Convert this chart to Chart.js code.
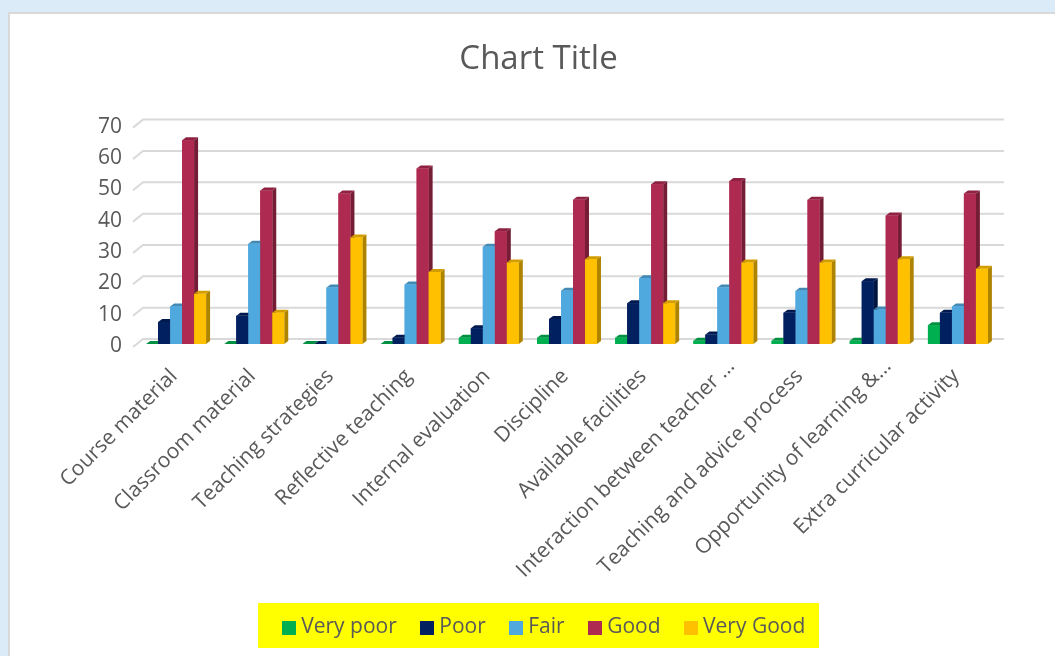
<!DOCTYPE html>
<html>
<head>
<meta charset="utf-8">
<title>Chart Title</title>
<script src="https://cdn.jsdelivr.net/npm/chart.js@4"></script>
<style>
    html, body { margin: 0; padding: 0; width: 1055px; height: 656px; overflow: hidden; background: #dbecf8; }
    #card { position: absolute; left: 8px; top: 12px; width: 1060px; height: 660px; background: #fff; border: 2px solid #d9d9d9; }
    #canvas_container { position: absolute; left: 0; top: 0; width: 1055px; height: 656px; overflow: hidden; }
</style>
</head>
<body>
<div id="card"></div>
<div id="canvas_container"><canvas id="barChart" width="1055" height="680"></canvas></div>
<script>
var categories = ["Course material", "Classroom material", "Teaching strategies", "Reflective teaching",
    "Internal evaluation", "Discipline", "Available facilities", "Interaction between teacher \u2026",
    "Teaching and advice process", "Opportunity of learning &\u2026", "Extra curricular activity"];

var veryPoor = [0, 0, 0, 0, 2, 2, 2, 1, 1, 1, 6];
var poor = [7, 9, 0, 2, 5, 8, 13, 3, 10, 20, 10];
var fair = [12, 32, 18, 19, 31, 17, 21, 18, 17, 11, 12];
var good = [65, 49, 48, 56, 36, 46, 51, 52, 46, 41, 48];
var veryGood = [16, 10, 34, 23, 26, 27, 13, 26, 26, 27, 24];

var textColor = "#595959";
var depthX = 4;
var depthY = 3;

//darken a hex colour for the side and top faces of the bars
function shade(hex, f) {
    var n = parseInt(hex.slice(1), 16);
    return "rgb(" + Math.round((n >> 16) * f) + "," + Math.round(((n >> 8) & 255) * f) + "," + Math.round((n & 255) * f) + ")";
}

function series(label, data, color) {
    return { label: label, data: data, backgroundColor: color, borderWidth: 0,
        categoryPercentage: 0.767, barPercentage: 1 };
}

//small square used as the legend marker, so the text can sit close to it
function swatch(color) {
    var c = document.createElement("canvas");
    c.width = 14;
    c.height = 14;
    var g = c.getContext("2d");
    g.fillStyle = color;
    g.fillRect(0, 0, 14, 14);
    return c;
}

//back wall lines with the little slanted piece on the left
var gridPlugin = {
    id: "grid3d",
    beforeDatasetsDraw: function (chart) {
        var ctx = chart.ctx, y = chart.scales.y, area = chart.chartArea;
        ctx.save();
        ctx.strokeStyle = "#d9d9d9";
        ctx.lineWidth = 2;
        y.ticks.forEach(function (t) {
            var py = y.getPixelForValue(t.value);
            ctx.beginPath();
            ctx.moveTo(area.left - 4, py + 3);
            ctx.lineTo(area.left + 6, py - 5);
            ctx.lineTo(area.right + 7, py - 5);
            ctx.stroke();
        });
        ctx.restore();
    }
};

//chart.js paints the first dataset last, the picture needs left bars behind right bars,
//so every bar is repainted here from left to right with its top and side faces
var depthPlugin = {
    id: "depth3d",
    afterDatasetsDraw: function (chart) {
        var ctx = chart.ctx;
        chart.data.datasets.forEach(function (ds, i) {
            chart.getDatasetMeta(i).data.forEach(function (bar) {
                var p = bar.getProps(["x", "y", "base", "width"], true);
                var l = p.x - p.width / 2, r = p.x + p.width / 2;
                ctx.fillStyle = shade(ds.backgroundColor, 0.68);
                ctx.beginPath();
                ctx.moveTo(r, p.base);
                ctx.lineTo(r + depthX, p.base - depthY);
                ctx.lineTo(r + depthX, p.y - depthY);
                ctx.lineTo(r, p.y);
                ctx.fill();
                ctx.fillStyle = shade(ds.backgroundColor, 0.82);
                ctx.beginPath();
                ctx.moveTo(l, p.y);
                ctx.lineTo(l + depthX, p.y - depthY);
                ctx.lineTo(r + depthX, p.y - depthY);
                ctx.lineTo(r, p.y);
                ctx.fill();
                bar.draw(ctx);
            });
        });
    }
};

//yellow box behind the legend, legend nudged to sit inside it
var legendBox = {
    id: "legendBox",
    afterLayout: function (chart) {
        chart.legend.left += 8;
        chart.legend.right += 8;
    },
    beforeDraw: function (chart) {
        var ctx = chart.ctx;
        ctx.save();
        ctx.fillStyle = "#ffff00";
        ctx.fillRect(258, 603, 561, 45);
        ctx.restore();
    }
};

//the two shortened labels sit further up their slant than the others
var shortLabels = {
    id: "shortLabels",
    beforeDraw: function (chart) {
        var scale = chart.scales.x;
        scale.getLabelItems().forEach(function (item) {
            if (String(item.label).slice(-1) === "\u2026" && !item.moved) {
                item.options.translation[0] += 10;
                item.options.translation[1] -= 10;
                item.moved = true;
            }
        });
    }
};

var chart = new Chart(document.getElementById("barChart").getContext("2d"), {
    type: "bar",
    data: {
        labels: categories,
        datasets: [
            series("Very poor", veryPoor, "#00b050"),
            series("Poor", poor, "#002060"),
            series("Fair", fair, "#4fa8de"),
            series("Good", good, "#ae2a50"),
            series("Very Good", veryGood, "#ffc000")
        ]
    },
    plugins: [legendBox, shortLabels, gridPlugin, depthPlugin],
    options: {
        responsive: false,
        animation: false,
        layout: { padding: { left: 80, right: 58, top: 0, bottom: 32 } },
        plugins: {
            tooltip: { enabled: false },
            title: {
                display: true,
                text: "Chart Title",
                color: textColor,
                font: { family: "Open Sans", size: 33, weight: "normal" },
                padding: { top: 40, bottom: 45 }
            },
            legend: {
                position: "bottom",
                labels: {
                    color: textColor,
                    font: { family: "Open Sans", size: 21 },
                    usePointStyle: true,
                    boxWidth: 3,
                    boxHeight: 14,
                    padding: 29,
                    generateLabels: function (chart) {
                        var items = Chart.defaults.plugins.legend.labels.generateLabels(chart);
                        items.forEach(function (item) {
                            item.pointStyle = swatch(chart.data.datasets[item.datasetIndex].backgroundColor);
                        });
                        return items;
                    }
                }
            }
        },
        scales: {
            x: {
                grid: { display: false },
                border: { display: false },
                ticks: {
                    color: textColor,
                    font: { family: "Open Sans", size: 21 },
                    minRotation: 45,
                    maxRotation: 45,
                    autoSkip: false,
                    labelOffset: -2,
                    padding: 12
                },
                afterFit: function (scale) {
                    scale.height = 244;
                    scale.paddingLeft = 0;
                    scale.paddingRight = 0;
                }
            },
            y: {
                min: 0,
                max: 70,
                grid: { display: false },
                border: { display: false },
                ticks: {
                    color: textColor,
                    stepSize: 10,
                    padding: 7,
                    labelOffset: 2,
                    font: { family: "Open Sans", size: 21 }
                },
                afterFit: function (scale) {
                    scale.width = 57;
                }
            }
        }
    }
});
</script>
</body>
</html>
